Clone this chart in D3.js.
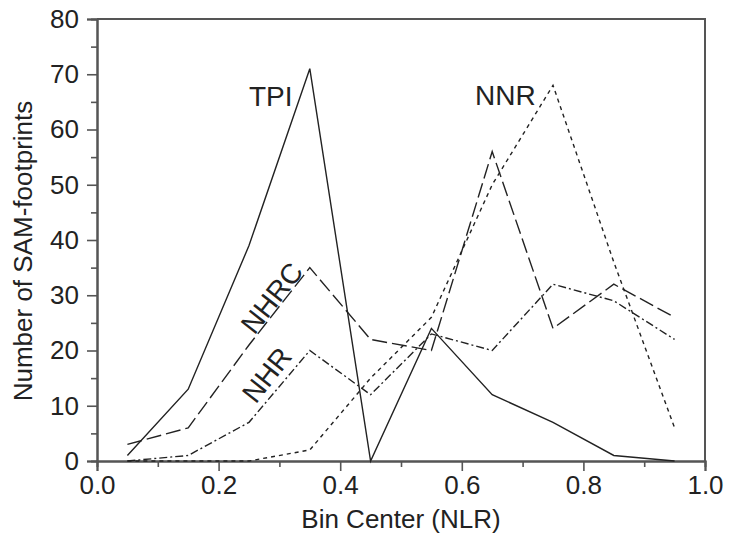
<!DOCTYPE html>
<html>
<head>
<meta charset="utf-8">
<script src="https://cdn.jsdelivr.net/npm/d3@7"></script>
<style>
  body { margin: 0; background: #fff; }
  text { font-family: "Liberation Sans", Arial, sans-serif; fill: #222; }
</style>
</head>
<body>
<div id="chart"></div>
<script>
var svgWidth = 730;
var svgHeight = 535;

var margin = { top: 19, right: 25, bottom: 74, left: 97 };

var width = svgWidth - margin.left - margin.right;
var height = svgHeight - margin.top - margin.bottom;

// bin centers
var binCenters = [0.05, 0.15, 0.25, 0.35, 0.45, 0.55, 0.65, 0.75, 0.85, 0.95];

// counts per series
var tpi  = [1, 13, 39, 71, 0, 24, 12, 7, 1, 0];
var nhrc = [3, 6, 21, 35, 22, 20, 56, 24, 32, 26];
var nhr  = [0, 1, 7, 20, 12, 23, 20, 32, 29, 22];
var nnr  = [0, 0, 0, 2, 15, 26, 50, 68, 36, 6];

var xTicks = [0, 0.2, 0.4, 0.6, 0.8, 1.0];
var yTicks = [0, 10, 20, 30, 40, 50, 60, 70, 80];

var series = [
  { name: "TPI", values: tpi, dash: null },
  { name: "NHRC", values: nhrc, dash: "15,5" },
  { name: "NHR", values: nhr, dash: "8,3,2,3" },
  { name: "NNR", values: nnr, dash: "4,4" }
];

var svg = d3.select("#chart").append("svg")
  .attr("width", svgWidth)
  .attr("height", svgHeight);

var chartGroup = svg.append("g")
  .attr("transform", `translate(${margin.left}, ${margin.top})`);

var xScale = d3.scaleLinear().domain([0, 1]).range([0, width]);
var yScale = d3.scaleLinear().domain([0, 80]).range([height, 0]);

// frame (top + right)
chartGroup.append("path")
  .attr("d", `M0,0H${width}V${height}`)
  .attr("fill", "none")
  .attr("stroke", "#555")
  .attr("stroke-width", 2);

// minor ticks
var xMinor = chartGroup.append("g")
  .attr("transform", `translate(0, ${height})`)
  .call(d3.axisBottom(xScale).tickValues(d3.range(0.1, 1, 0.2)).tickSize(6).tickFormat(""));
var yMinor = chartGroup.append("g")
  .call(d3.axisLeft(yScale).tickValues(d3.range(5, 80, 10)).tickSize(6).tickFormat(""));

var xAxis = chartGroup.append("g")
  .attr("transform", `translate(0, ${height})`)
  .call(d3.axisBottom(xScale).tickValues(xTicks).tickSize(10).tickPadding(5)
    .tickFormat(d3.format(".1f")));

var yAxis = chartGroup.append("g")
  .call(d3.axisLeft(yScale).tickValues(yTicks).tickSize(10).tickPadding(8));

[xMinor, yMinor, xAxis, yAxis].forEach(function(g) {
  g.select(".domain").attr("stroke", "#555").attr("stroke-width", 2);
  g.selectAll(".tick line").attr("stroke", "#555").attr("stroke-width", 1.6);
  g.selectAll("text").attr("font-size", "26px").attr("fill", "#222")
    .attr("font-family", "Liberation Sans, Arial, sans-serif");
});

var line = d3.line()
  .x(function(d, i) { return xScale(binCenters[i]); })
  .y(function(d) { return yScale(d); });

chartGroup.selectAll(".series")
  .data(series)
  .enter()
  .append("path")
  .attr("class", "series")
  .attr("fill", "none")
  .attr("stroke", "#222")
  .attr("stroke-width", 1.4)
  .attr("stroke-dasharray", d => d.dash)
  .attr("d", d => line(d.values));

// series labels
svg.append("text").attr("x", 249).attr("y", 106).attr("font-size", "28px").text("TPI");
svg.append("text").attr("x", 475).attr("y", 105).attr("font-size", "28px").text("NNR");
svg.append("text")
  .attr("transform", "translate(272, 298) rotate(-52)")
  .attr("text-anchor", "middle").attr("dominant-baseline", "central")
  .attr("font-size", "28px").text("NHRC");
svg.append("text")
  .attr("transform", "translate(267, 375) rotate(-52)")
  .attr("text-anchor", "middle").attr("dominant-baseline", "central")
  .attr("font-size", "28px").text("NHR");

// axis titles
svg.append("text")
  .attr("x", margin.left + width / 2)
  .attr("y", 528)
  .attr("text-anchor", "middle")
  .attr("font-size", "26px")
  .text("Bin Center (NLR)");

svg.append("text")
  .attr("transform", "translate(32, 251) rotate(-90)")
  .attr("text-anchor", "middle")
  .attr("font-size", "26px")
  .text("Number of SAM-footprints");
</script>
</body>
</html>
